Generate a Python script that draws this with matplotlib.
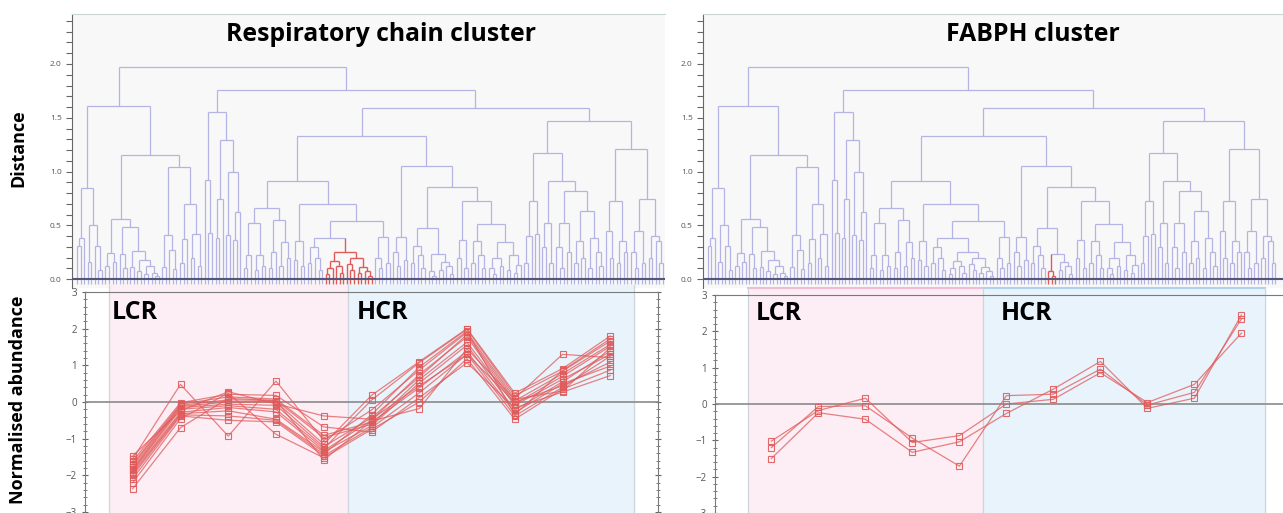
import matplotlib
matplotlib.use("Agg")
import matplotlib.pyplot as plt
import numpy as np
from matplotlib.collections import LineCollection
from matplotlib.ticker import MultipleLocator, FormatStrFormatter

plt.rcParams['font.family'] = ['Open Sans', 'DejaVu Sans']

# Hierarchical tree shared by both dendrograms.
# A node is (height, left, right); 0 is a leaf; (tag, node) marks a highlighted cluster.
resp_cluster = ('resp', (0.25, (0.17, (0.10, (0.05, 0, 0), 0), (0.12, 0, (0.06, 0, 0))),
                         (0.20, (0.14, 0, (0.08, 0, 0)), (0.11, (0.06, 0, 0), (0.07, 0, (0.03, 0, 0))))))
fabph_cluster = ('fabph', (0.07, 0, (0.03, 0, 0)))

a1 = (0.85, (0.38, (0.31, 0, 0), 0), (0.50, (0.16, 0, 0), (0.31, 0, (0.08, 0, 0))))
a2 = (1.15,
      (0.56, (0.24, (0.12, 0, 0), (0.16, 0, 0)),
             (0.48, (0.23, 0, (0.10, 0, 0)),
                    (0.26, (0.11, 0, 0), (0.18, (0.07, 0, 0), (0.12, (0.05, 0, 0), (0.06, 0, (0.03, 0, 0))))))),
      (1.04, (0.41, (0.11, 0, 0), (0.27, 0, (0.09, 0, 0))),
             (0.70, (0.37, (0.15, 0, 0), 0), (0.42, (0.20, 0, 0), (0.12, 0, 0)))))
b1 = (1.55, (0.92, 0, (0.43, 0, 0)),
      (1.29, (0.74, (0.38, 0, 0), 0), (1.00, (0.41, 0, 0), (0.62, (0.36, 0, 0), 0))))
b2a_left = (0.91,
            (0.66, (0.52, (0.22, (0.10, 0, 0), 0), (0.22, (0.08, 0, 0), (0.12, 0, 0))),
                   (0.55, (0.25, (0.10, 0, 0), 0), (0.34, (0.12, 0, 0), (0.20, 0, 0)))),
            (0.70, (0.35, (0.18, 0, 0), (0.12, 0, 0)),
                   (0.54, (0.38, (0.30, (0.15, 0, 0), (0.20, 0, (0.08, 0, 0))), resp_cluster),
                          (0.39, (0.20, 0, (0.10, 0, 0)), (0.15, 0, 0)))))
b2a_right = (1.05, (0.39, (0.25, 0, (0.12, 0, 0)), (0.18, 0, 0)),
             (0.86, (0.47, (0.31, (0.15, 0, 0), (0.22, 0, (0.10, 0, 0))),
                           (0.23, fabph_cluster, (0.16, (0.08, 0, 0), (0.12, 0, (0.05, 0, 0))))),
                    (0.73, (0.36, (0.20, 0, 0), (0.10, 0, 0)),
                           (0.51, (0.35, (0.15, 0, 0), (0.22, 0, (0.10, 0, 0))),
                                  (0.34, (0.20, (0.10, 0, (0.05, 0, 0)), (0.12, 0, 0)),
                                         (0.22, (0.08, 0, 0), (0.13, (0.06, 0, 0), 0)))))))
b2b = (1.47,
       (1.17, (0.73, (0.40, (0.15, 0, 0), 0), (0.42, 0, 0)),
              (0.91, (0.52, (0.30, 0, 0), (0.15, 0, 0)),
                     (0.82, (0.52, (0.30, 0, (0.10, 0, 0)), (0.25, 0, 0)),
                            (0.63, (0.35, (0.15, 0, 0), (0.20, 0, 0)),
                                   (0.38, (0.10, 0, 0), (0.25, 0, (0.12, 0, 0))))))),
       (1.21, (0.73, (0.45, 0, (0.20, 0, 0)), (0.35, (0.15, 0, 0), (0.25, 0, 0))),
              (0.74, (0.45, (0.25, 0, (0.10, 0, 0)), (0.15, 0, 0)),
                     (0.40, (0.20, 0, 0), (0.35, 0, (0.15, 0, 0))))))
tree = (1.97, (1.61, a1, a2), (1.76, b1, (1.59, (1.33, b2a_left, b2a_right), b2b)))

# Normalised abundance profiles (11 samples: 5 LCR, 6 HCR)
resp_profiles = [
    [-1.47, -0.24, 0.28, -0.05, -0.38, -0.47, 0.44, 1.30, 0.00, 0.44, 1.09],
    [-1.55, 0.48, -0.93, 0.57, -1.05, -0.22, 0.87, 1.90, 0.10, 1.30, 1.21],
    [-1.61, -0.02, 0.21, 0.18, -0.68, -0.82, 0.12, 1.07, -0.16, 0.27, 0.72],
    [-1.68, -0.06, 0.14, 0.08, -0.91, -0.55, 0.39, 1.38, -0.29, 0.50, 0.98],
    [-1.72, -0.09, 0.06, 0.04, -0.97, -0.61, 0.61, 1.63, -0.09, 0.62, 1.30],
    [-1.78, -0.12, 0.00, 0.00, -1.15, 0.18, 1.10, 2.00, 0.24, 0.91, 1.80],
    [-1.83, -0.15, -0.06, -0.09, -1.22, -0.43, 0.68, 1.84, 0.03, 0.77, 1.57],
    [-1.86, -0.20, -0.10, -0.20, -1.27, 0.05, 1.07, 1.98, 0.17, 0.84, 1.66],
    [-1.90, -0.28, -0.15, -0.27, -1.33, -0.50, 0.75, 1.78, -0.05, 0.70, 1.52],
    [-1.95, -0.32, -0.24, -0.47, -1.36, -0.65, 0.52, 1.55, -0.22, 0.55, 1.39],
    [-2.00, -0.35, -0.38, -0.50, -1.42, -0.35, 0.95, 1.93, -0.35, 0.86, 1.72],
    [-2.09, -0.38, -0.50, -0.54, -1.47, -0.70, 0.25, 1.30, -0.38, 0.40, 1.25],
    [-2.20, -0.45, 0.24, -0.88, -1.52, -0.75, 0.00, 1.18, -0.47, 0.35, 0.87],
    [-2.36, -0.70, 0.10, 0.04, -1.58, -0.52, -0.18, 1.45, 0.07, 0.30, 1.48],
]
fabph_profiles = [
    [-1.02, -0.18, 0.16, -1.06, -0.87, 0.00, 0.13, 0.86, 0.04, 0.54, 1.95],
    [-1.20, -0.07, -0.05, -0.94, -1.71, 0.23, 0.27, 0.96, -0.03, 0.32, 2.34],
    [-1.50, -0.24, -0.42, -1.33, -1.04, -0.26, 0.41, 1.17, -0.12, 0.16, 2.45],
]
n_lcr = 5
n_hcr = 6

LAV = '#b4b4e4'
RED = '#e05a5a'
W, H = 1283, 513


def box(l, t, r, b):
    return [l / W, 1 - b / H, (r - l) / W, (b - t) / H]


def walk(node, highlight, pos, segs, color):
    if node == 0:
        x = pos[0]
        pos[0] += 1
        return x, -0.05, color
    if len(node) == 2:
        tag, node = node
        if tag == highlight:
            color = RED
    h, left, right = node
    xl, hl, cl = walk(left, highlight, pos, segs, color)
    xr, hr, cr = walk(right, highlight, pos, segs, color)
    segs.append(([(xl, hl), (xl, h)], cl))
    segs.append(([(xr, hr), (xr, h)], cr))
    segs.append(([(xl, h), (xr, h)], color))
    return (xl + xr) / 2, h, color


def dendro(ax, highlight, ax_l, ax_r, first, last):
    pos = [0]
    segs = []
    walk(tree, highlight, pos, segs, LAV)
    n = pos[0]
    blue = [s for s, c in segs if c == LAV]
    red = [s for s, c in segs if c == RED]
    ax.add_collection(LineCollection(blue, colors=LAV, linewidths=0.9))
    ax.add_collection(LineCollection(red, colors=RED, linewidths=1.0, zorder=3))
    ax.axhline(0, color='#55557a', lw=1.5, zorder=4)
    ppl = (last - first) / (n - 1)
    ax.set_xlim(-(first - ax_l) / ppl, n - 1 + (ax_r - last) / ppl)
    ax.set_ylim(-(288 - 279) / 107.5, (279 - 14) / 107.5)
    ax.set_facecolor('#f8f8f8')
    for s in ['right', 'bottom']:
        ax.spines[s].set_visible(False)
    ax.spines['top'].set_color('#c8d6d6')
    ax.spines['left'].set_color('#666666')
    ax.set_xticks([])
    ax.yaxis.set_major_locator(MultipleLocator(0.5))
    ax.yaxis.set_minor_locator(MultipleLocator(0.1))
    ax.yaxis.set_major_formatter(FormatStrFormatter('%.1f'))
    ax.tick_params(axis='y', which='both', length=4, width=0.8, color='#666666',
                   labelsize=6, labelcolor='#555555')


def profiles(ax, rows, border):
    xs = np.arange(n_lcr + n_hcr)
    ax.axvspan(-0.5, n_lcr - 0.5, ymin=0, ymax=1.03, color='#fdedf4', zorder=0, clip_on=False)
    ax.axvspan(n_lcr - 0.5, n_lcr + n_hcr - 0.5, ymin=0, ymax=1.03, color='#e9f3fc', zorder=0, clip_on=False)
    if border:
        ax.plot([-0.5, n_lcr - 0.5], [1.03, 1.03], transform=ax.get_xaxis_transform(),
                color='#f4bcd2', lw=1.5, clip_on=False, zorder=1)
        ax.plot([n_lcr - 0.5, n_lcr + n_hcr - 0.5], [1.03, 1.03], transform=ax.get_xaxis_transform(),
                color='#aed2f0', lw=1.5, clip_on=False, zorder=1)
    for xv in [-0.5, n_lcr - 0.5, n_lcr + n_hcr - 0.5]:
        ax.axvline(xv, ymin=0, ymax=1.03, color='#cfd5dc', lw=0.9, zorder=1, clip_on=False)
    ax.axhline(0, color='#8a8a8a', lw=1.2, zorder=2)
    for r in rows:
        ax.plot(xs, r, color=RED, lw=0.9, alpha=0.75, zorder=3)
        ax.plot(xs, r, ls='none', marker='s', ms=4, mfc='none', mec=RED, mew=0.8, alpha=0.9, zorder=4)
    ax.set_ylim(-3, 3)
    ax.set_facecolor('white')
    ax.spines['bottom'].set_visible(False)
    for s in ['top', 'left', 'right']:
        ax.spines[s].set_color('#7a7a7a')
    ax.set_xticks([])
    ax.set_yticks(range(-3, 4))
    ax.yaxis.set_minor_locator(MultipleLocator(0.2))
    ax.tick_params(axis='y', which='major', direction='inout', length=5, color='#666666',
                   labelsize=7, labelcolor='#555555')
    ax.tick_params(axis='y', which='minor', direction='inout', length=3, color='#666666')


fig = plt.figure(figsize=(12.83, 5.13), dpi=100)

ax_d1 = fig.add_axes(box(72, 14, 665, 288))
dendro(ax_d1, 'resp', 72, 665, 77, 663)
ax_d2 = fig.add_axes(box(703, 14, 1283, 288))
dendro(ax_d2, 'fabph', 703, 1283, 708, 1275)

ax_p1 = fig.add_axes(box(85, 292, 658, 512))
profiles(ax_p1, resp_profiles, False)
ax_p1.set_xlim(-1.0, 11.0)
ax_p1.tick_params(axis='y', which='both', right=True)

ax_p2 = fig.add_axes(box(715, 295, 1283, 513))
profiles(ax_p2, fabph_profiles, True)
ax_p2.set_xlim(-1.2, (1283 - 715) / 47 - 1.2)
ax_p2.spines['right'].set_visible(False)

fig.text(112 / W, 1 - 300 / H, 'LCR', fontsize=18, fontweight='bold', va='top')
fig.text(357 / W, 1 - 300 / H, 'HCR', fontsize=18, fontweight='bold', va='top')
fig.text(756 / W, 1 - 301 / H, 'LCR', fontsize=18, fontweight='bold', va='top')
fig.text(1001 / W, 1 - 301 / H, 'HCR', fontsize=18, fontweight='bold', va='top')

fig.text(381 / W, 1 - 35 / H, 'Respiratory chain cluster', fontsize=17.8, fontweight='bold',
         ha='center', va='center')
fig.text(1033 / W, 1 - 35 / H, 'FABPH cluster', fontsize=17.8, fontweight='bold',
         ha='center', va='center')
fig.text(18 / W, 1 - 148 / H, 'Distance', fontsize=13, fontweight='bold',
         rotation=90, ha='center', va='center')
fig.text(18 / W, 1 - 400 / H, 'Normalised abundance', fontsize=13, fontweight='bold',
         rotation=90, ha='center', va='center')

fig.savefig('out.png', dpi=100, facecolor='white')
